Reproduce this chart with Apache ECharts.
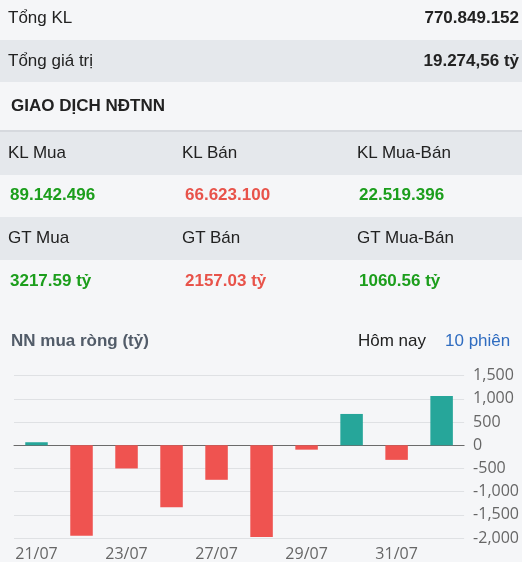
<!DOCTYPE html>
<html>
<head>
<meta charset="utf-8">
<script src="https://cdn.jsdelivr.net/npm/echarts@6/dist/echarts.min.js"></script>
<style>
  html, body { margin:0; padding:0; width:522px; height:562px; overflow:hidden; background:#f5f6f8; font-family:"Liberation Sans", Arial, sans-serif; font-size:17px; color:#222; }
  #chart { position:absolute; left:0; top:0; width:522px; height:562px; }
  .abs { position:absolute; white-space:nowrap; }
  .row { position:absolute; left:0; width:522px; }
  .gray { background:#e5e8ec; }
  .b { font-weight:bold; }
  .green { color:#1c9e1c; font-weight:bold; }
  .red { color:#e8534a; font-weight:bold; }
</style>
</head>
<body>
<div class="row" style="top:0;height:40px;"></div>
<div class="row gray" style="top:40px;height:42px;"></div>
<div class="row" style="top:130px;height:2px;background:#d6d9de;"></div>
<div class="row gray" style="top:132px;height:43px;"></div>
<div class="row gray" style="top:217px;height:43px;"></div>
<div id="chart"></div>
<div id="texts"></div>
<script>
// ---- data ----
var summaryLabels = ["Tổng KL", "Tổng giá trị"];
var summaryValues = ["770.849.152", "19.274,56 tỷ"];
var sectionTitle = "GIAO DỊCH NĐTNN";
var klLabels = ["KL Mua", "KL Bán", "KL Mua-Bán"];
var klValues = ["89.142.496", "66.623.100", "22.519.396"];
var gtLabels = ["GT Mua", "GT Bán", "GT Mua-Bán"];
var gtValues = ["3217.59 tỷ", "2157.03 tỷ", "1060.56 tỷ"];
var valueClasses = ["green", "red", "green"];
var chartTitle = "NN mua ròng (tỷ)";
var tabLabels = ["Hôm nay", "10 phiên"];
var dates = ["21/07", "22/07", "23/07", "24/07", "27/07", "28/07", "29/07", "30/07", "31/07", "03/08"];
var netBuy = [65, -1950, -500, -1335, -745, -1980, -95, 675, -315, 1060.56];
var yTicks = { min: -2000, max: 1500, interval: 500 };

// ---- text layout ----
var t = document.getElementById('texts');
function add(text, left, cy, cls, style) {
  var d = document.createElement('div');
  d.className = 'abs ' + (cls || '');
  d.textContent = text;
  d.style.top = (cy - 11) + 'px';
  d.style.lineHeight = '22px';
  if (left !== null) d.style.left = left + 'px';
  if (style) for (var k in style) d.style[k] = style[k];
  t.appendChild(d);
  return d;
}
add(summaryLabels[0], 8, 18);
add(summaryValues[0], null, 18, 'b', {right:'3px'});
add(summaryLabels[1], 8, 61);
add(summaryValues[1], null, 61, 'b', {right:'3px'});
add(sectionTitle, 11, 106, 'b');
var colX = [8, 182, 357];
var valX = [10, 185, 359];
for (var i = 0; i < 3; i++) {
  add(klLabels[i], colX[i], 153);
  add(klValues[i], valX[i], 195, valueClasses[i]);
  add(gtLabels[i], colX[i], 238);
  add(gtValues[i], valX[i], 281, valueClasses[i]);
}
add(chartTitle, 11, 341, 'b', {color:'#525c69'});
add(tabLabels[0], 358, 341, '', {color:'#222'});
add(tabLabels[1], 445, 341, '', {color:'#2f6cc0'});

// ---- chart ----
var chart = echarts.init(document.getElementById('chart'));
chart.setOption({
  animation: false,
  grid: { left: 14, right: 57, top: 375.7, bottom: 23.7 },
  xAxis: {
    type: 'category',
    data: dates,
    axisLine: { onZero: true, lineStyle: { color: '#6b6b6b', width: 1 } },
    axisTick: { show: false },
    axisLabel: { interval: 1, color: '#666', fontSize: 16, margin: 8, fontFamily: 'Open Sans' }
  },
  yAxis: {
    type: 'value',
    position: 'right',
    min: yTicks.min, max: yTicks.max, interval: yTicks.interval,
    axisLine: { show: false },
    axisTick: { show: false },
    splitLine: { lineStyle: { color: '#dfe1e4' } },
    axisLabel: {
      color: '#666', fontSize: 16, margin: 9, fontFamily: 'Open Sans',
      formatter: function (v) { return v.toLocaleString('en-US'); }
    }
  },
  series: [{
    type: 'bar',
    barWidth: '50%',
    data: netBuy.map(function (v) {
      return { value: v, itemStyle: { color: v >= 0 ? '#26a69a' : '#ef5350' } };
    })
  }]
});
</script>
</body>
</html>
